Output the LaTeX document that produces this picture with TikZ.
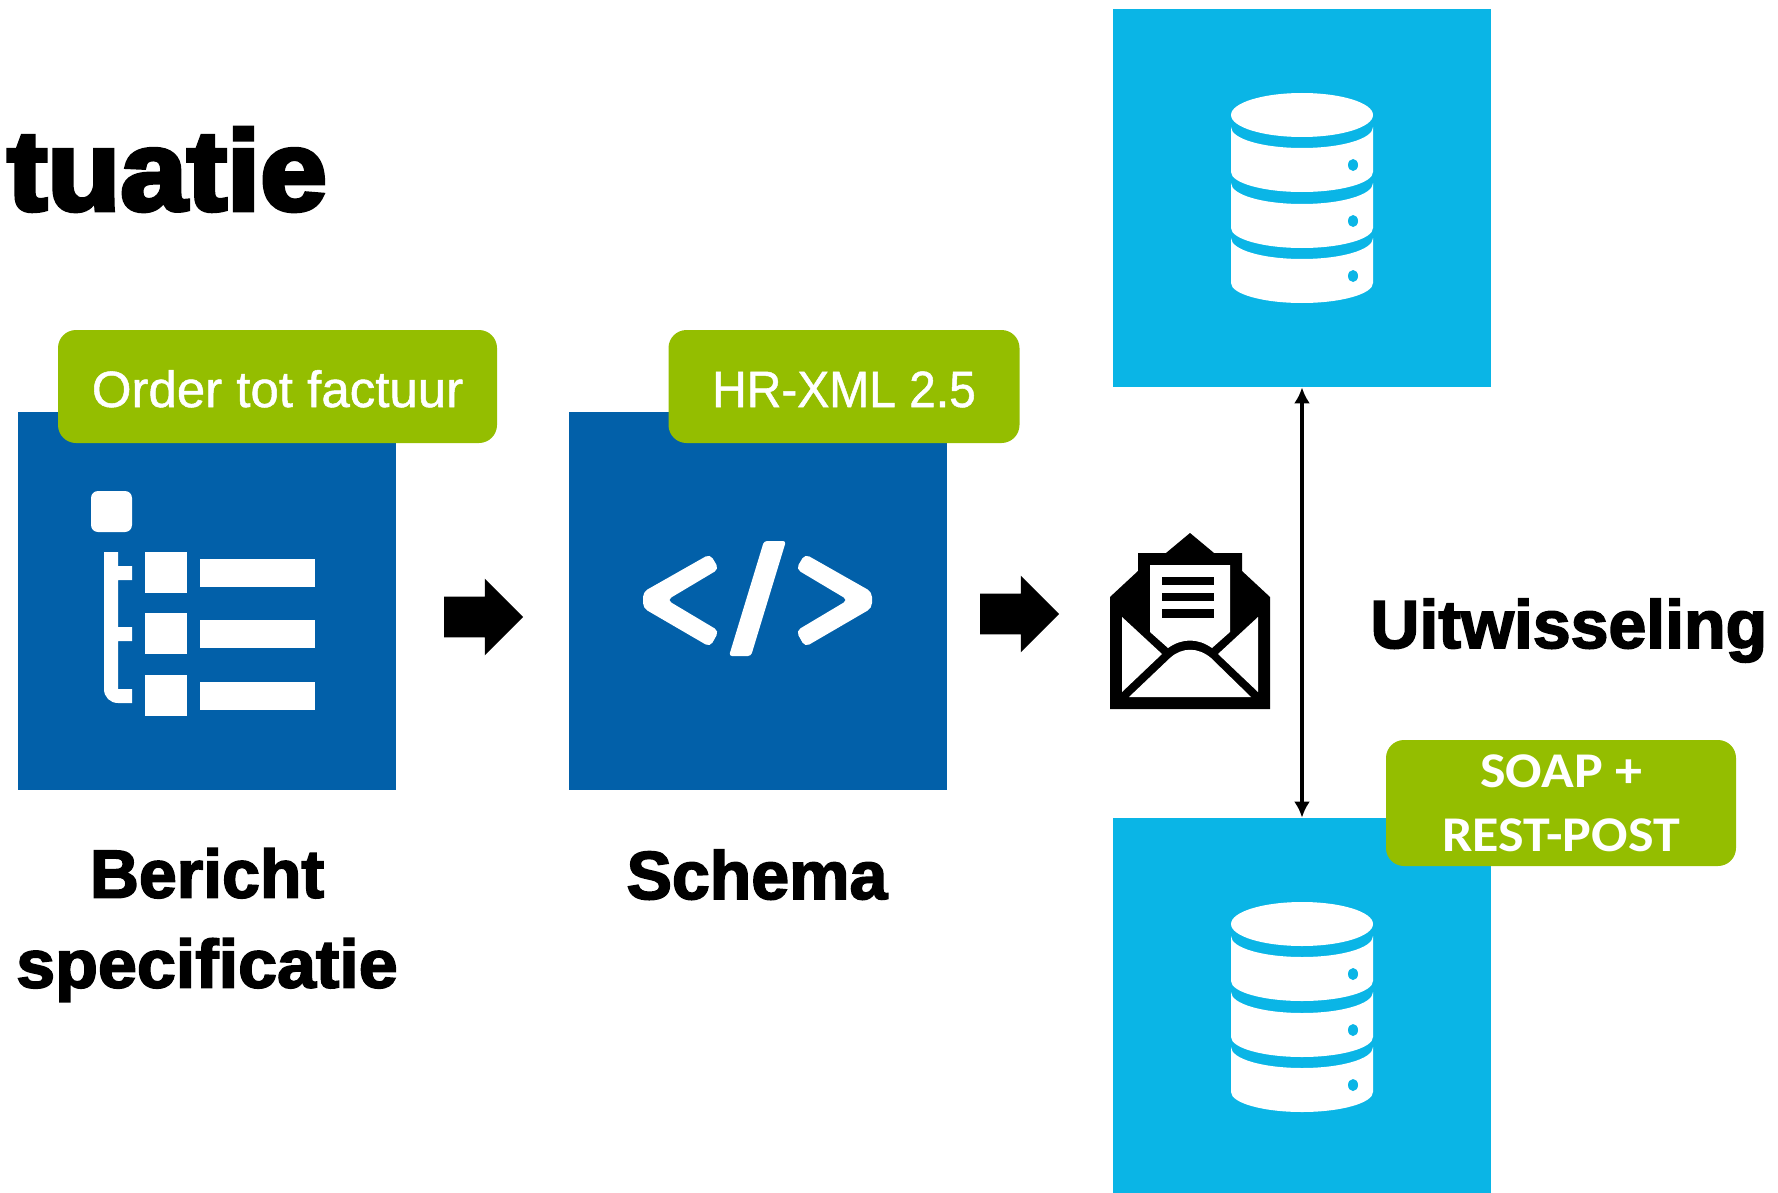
\documentclass[tikz,border=0pt]{standalone}
\usepackage{fontspec}
\usetikzlibrary{shapes.arrows,arrows.meta}
\setmainfont{Liberation Sans}
\newfontfamily\heavyfont[FakeBold=2.5]{Liberation Sans Bold}
\newfontfamily\titlefont[FakeBold=4]{Liberation Sans Bold}
\newfontfamily\tabfont[FakeBold=1]{Liberation Sans}
\newfontfamily\soapfont[FakeStretch=1.08]{Carlito Bold}
\definecolor{berichtblue}{HTML}{0260A9}
\definecolor{dbblue}{HTML}{0AB5E6}
\definecolor{tabgreen}{HTML}{94BE00}
\tikzset{
    bluebox/.style={fill=berichtblue,minimum size=189pt,inner sep=0pt},
    dbbox/.style={fill=dbblue,minimum size=189pt,inner sep=0pt},
    tab/.style={fill=tabgreen,rounded corners=9pt,text=white,inner sep=0pt,align=center},
    tabtext/.style={font=\tabfont\fontsize{25.5}{30}\selectfont,text height=22pt,text depth=1.5pt},
    heavy/.style={font=\heavyfont\fontsize{34}{45}\selectfont,inner sep=0pt,align=center},
    blockarrow/.style={single arrow,fill=black,inner xsep=0pt,inner ysep=10pt,minimum height=39.5pt,single arrow head extend=9pt,single arrow tip angle=90},
}
\newcommand{\dbsegment}[1]{
    \fill[white] (1231,#1) .. controls (1231,#1+12) and (1263,#1+21) .. (1302,#1+21)
        .. controls (1341,#1+21) and (1373,#1+12) .. (1373,#1)
        -- (1373,#1+45) .. controls (1373,#1+56) and (1341,#1+65) .. (1302,#1+65)
        .. controls (1263,#1+65) and (1231,#1+56) .. (1231,#1+45) -- cycle;
    \fill[dbblue] (1353,#1+38) ellipse [x radius=2.5pt,y radius=3pt];
}
\begin{document}
\begin{tikzpicture}[x=0.5pt,y=-0.5pt]
    \useasboundingbox (0,0) rectangle (1778,1193);

    \node[bluebox] (bericht) at (207,601) {};
    \node[bluebox] (schema) at (758,601) {};
    \node[dbbox] (dbtop) at (1302,198) {};
    \node[dbbox] (dbbottom) at (1302,1007) {};

    %% tabs
    \node[tab,tabtext,minimum width=219.5pt,minimum height=56.5pt] (order) at (277.5,386.5) {Order tot factuur};
    \node[tab,tabtext,minimum width=175.5pt,minimum height=56.5pt] (hrxml) at (844,386.5) {\scalebox{0.94}[1]{HR-XML 2.5}};
    \node[tab,minimum width=175pt,minimum height=63pt,font=\soapfont\fontsize{25}{32}\selectfont] (soap) at (1561,803) {SOAP +\\REST-POST};

    %% labels
    \node[heavy,anchor=base west,font=\titlefont\fontsize{59}{60}\selectfont] (title) at (7,210) {\scalebox{1.015}[0.96]{tuatie}};
    \node[heavy] (specificatie) at (207,925) {Bericht\\\scalebox{1.03}[1]{specificatie}};
    \node[heavy,anchor=base] (schemalabel) at (757,899) {Schema};
    \node[heavy,anchor=base west] (uitwisseling) at (1370,648) {Uitwisseling};

    %% arrows
    \node[blockarrow] (arrow1) at (473.5,617) {};
    \node[blockarrow] (arrow2) at (1009.5,614) {};
    \draw[{Latex[length=8pt,width=8pt]}-{Latex[length=8pt,width=8pt]},line width=2pt] (dbtop) -- (dbbottom);

    %% list icon
    \fill[white,rounded corners=3.5pt] (91,491) rectangle (132,532);
    \foreach \y in {552,613,675} {
        \fill[white] (145,\y) rectangle (187,\y+41);
        \fill[white] (200,\y+7) rectangle (315,\y+35);
    }
    \fill[white] (104,552) -- (118,552) -- (118,566) -- (132,566) -- (132,580) -- (118,580) -- (118,627)
        -- (132,627) -- (132,641) -- (118,641) -- (118,689) -- (132,689) -- (132,703) -- (118,703)
        .. controls (110,703) and (104,697) .. (104,689) -- cycle;

    %% code icon
    \fill[white,rounded corners=2.5pt] (710,554) -- (719,569) -- (667,600) -- (719,631) -- (710,647) -- (643,608) -- (643,592) -- cycle;
    \fill[white,rounded corners=1.5pt] (764,541) -- (786,541) -- (751,656) -- (729,656) -- cycle;
    \fill[white,rounded corners=2.5pt] (805,554) -- (796,569) -- (848,600) -- (796,631) -- (805,647) -- (872,608) -- (872,592) -- cycle;

    %% databases
    \foreach \dy in {0,809} {
        \begin{scope}[shift={(0,\dy)}]
            \fill[white] (1302,115) ellipse [x radius=35.5pt,y radius=11pt];
            \foreach \s in {127,183,238} {
                \dbsegment{\s}
            }
        \end{scope}
    }

    %% envelope
    \fill[black] (1110,709) -- (1270,709) -- (1270,597) -- (1242,571) -- (1242,553) -- (1214,553) -- (1190,533)
        -- (1166,553) -- (1138,553) -- (1138,571) -- (1110,597) -- cycle;
    \fill[white] (1150,565) -- (1230,565) -- (1230,632) -- (1212,648) .. controls (1198,638) and (1182,638) .. (1168,648) -- (1150,632) -- cycle;
    \foreach \y/\h in {577/8,593/8,609/9} {
        \fill[black] (1162,\y) rectangle (1214,\y+\h);
    }
    \fill[white] (1122,617) -- (1162,654) -- (1122,692) -- cycle;
    \fill[white] (1258,617) -- (1218,654) -- (1258,692) -- cycle;
    \fill[white] (1129,697) -- (1170,658) .. controls (1182,647) and (1198,647) .. (1211,658) -- (1251,697) -- cycle;
\end{tikzpicture}
\end{document}
